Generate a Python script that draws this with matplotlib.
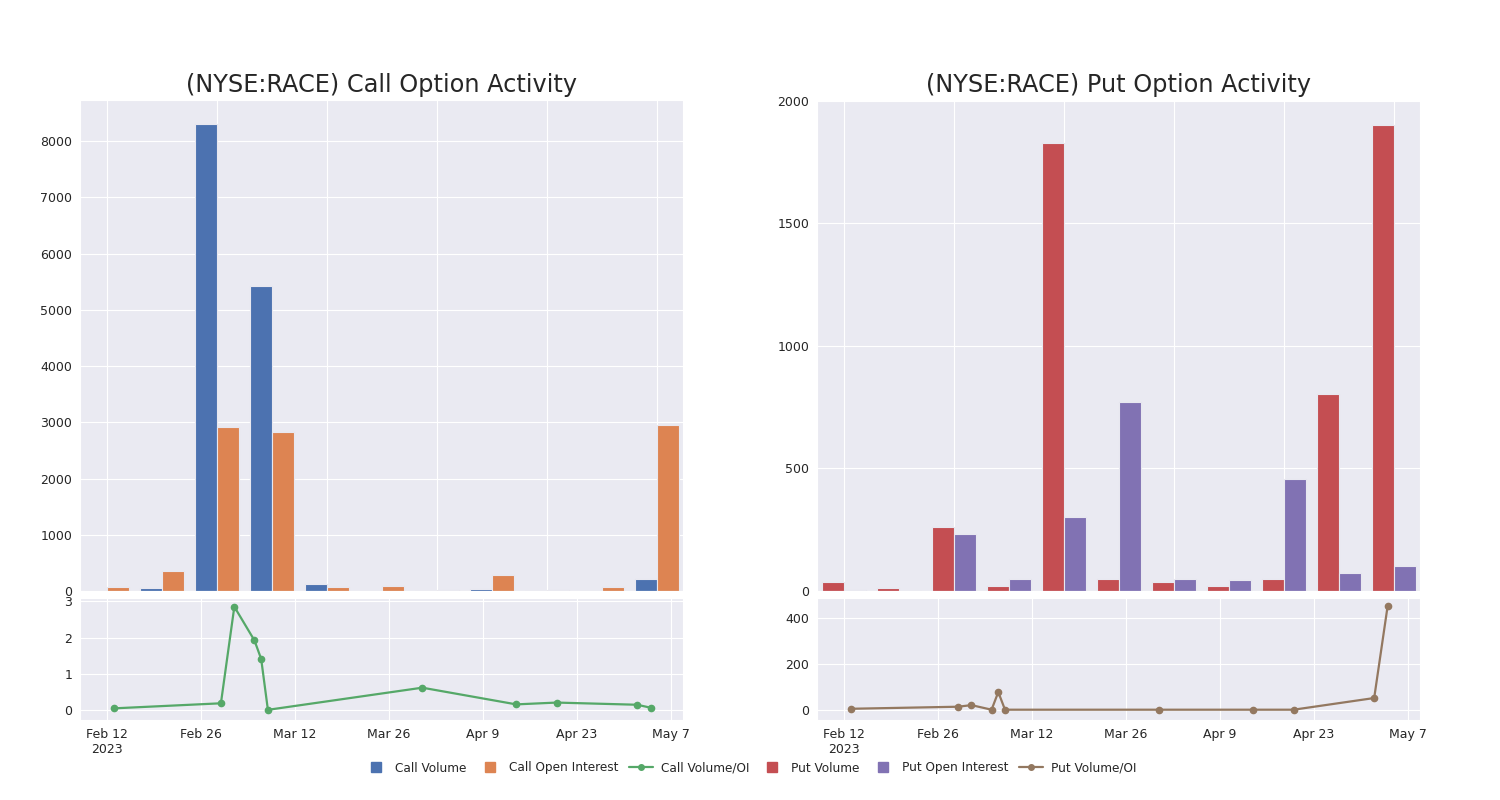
import numpy as np
import pandas as pd
import matplotlib
matplotlib.use('Agg')
import matplotlib.pyplot as plt
import matplotlib.dates as mdates
from matplotlib.lines import Line2D
import seaborn as sns

sns.set_style('darkgrid')
plt.rcParams['font.family'] = ['DejaVu Sans']

# даты торговых дней
dates = pd.to_datetime(['2023-02-13', '2023-03-01', '2023-03-03', '2023-03-06', '2023-03-07',
                        '2023-03-08', '2023-03-31', '2023-04-14', '2023-04-20', '2023-05-02',
                        '2023-05-04'])

# колл опционы
call_volume = [5, 60, 8300, 5430, 120, 0, 8, 40, 5, 8, 210]
call_oi = [65, 350, 2920, 2820, 80, 85, 10, 280, 25, 65, 2960]
call_ratio = [0.05, 0.19, 2.85, 1.92, 1.41, 0.01, 0.62, 0.16, 0.21, 0.15, 0.07]

# пут опционы
put_volume = [35, 12, 260, 19, 1828, 49, 35, 20, 48, 803, 1902]
put_oi = [5, 0, 231, 50, 302, 771, 50, 44, 456, 72, 102]
put_ratio = [4, 13, 20, 0, 77, 0, 0, 0, 0, 51, 452]

c_vol, c_oi, c_ratio = '#4C72B0', '#DD8452', '#55A868'
p_vol, p_oi, p_ratio = '#C44E52', '#8172B3', '#937860'

fig = plt.figure(figsize=(15, 8), dpi=100)


def date_fmt(x, pos):
    d = mdates.num2date(x)
    s = d.strftime('%b ') + str(d.day)
    if pos == 0:
        s += '\n2023'
    return s


def draw(x0, vol, oi, ratio, col_v, col_oi, col_r, title, ylim_top, ystep, ylim_bot, yticks_bot):
    ax = fig.add_axes([x0, 0.26125, 0.402, 0.61375])
    ax2 = fig.add_axes([x0, 0.1, 0.402, 0.1525])
    idx = np.arange(len(vol))
    ax.bar(idx - 0.2, vol, width=0.4, color=col_v, edgecolor='#e8e8f0', linewidth=0.8)
    ax.bar(idx + 0.2, oi, width=0.4, color=col_oi, edgecolor='#e8e8f0', linewidth=0.8)
    ax.set_xlim(-0.49, 10.47)
    ax.set_ylim(0, ylim_top)
    ax.yaxis.set_major_locator(plt.MultipleLocator(ystep))
    ax.set_xticks(idx[::2])
    ax.set_xticklabels([])
    ax.tick_params(axis='x', length=0)
    ax.tick_params(axis='y', labelsize=9, pad=2)
    ax.set_title(title, fontsize=17.3, color='#262626')

    # график отношения объема к открытому интересу
    ax2.plot(dates, ratio, color=col_r, marker='o', markersize=4.5, linewidth=1.6)
    ax2.set_xlim(pd.Timestamp('2023-02-08'), pd.Timestamp('2023-05-08 20:00'))
    ax2.set_ylim(*ylim_bot)
    ax2.set_yticks(yticks_bot)
    ax2.set_xticks(pd.date_range('2023-02-12', '2023-05-07', freq='14D'))
    ax2.xaxis.set_major_formatter(plt.FuncFormatter(date_fmt))
    ax2.tick_params(axis='both', labelsize=9, pad=2)
    return ax, ax2


draw(0.0533, call_volume, call_oi, call_ratio, c_vol, c_oi, c_ratio,
     '(NYSE:RACE) Call Option Activity', 8730, 1000, (-0.27, 3.09), [0, 1, 2, 3])
draw(0.5447, put_volume, put_oi, put_ratio, p_vol, p_oi, p_ratio,
     '(NYSE:RACE) Put Option Activity', 2004, 500, (-45, 488), [0, 200, 400])

handles = [
    Line2D([], [], marker='s', linestyle='none', color=c_vol, markersize=7),
    Line2D([], [], marker='s', linestyle='none', color=c_oi, markersize=7),
    Line2D([], [], marker='o', color=c_ratio, markersize=4, linewidth=1.6),
    Line2D([], [], marker='s', linestyle='none', color=p_vol, markersize=7),
    Line2D([], [], marker='s', linestyle='none', color=p_oi, markersize=7),
    Line2D([], [], marker='o', color=p_ratio, markersize=4, linewidth=1.6),
]
labels = ['Call Volume', 'Call Open Interest', 'Call Volume/OI',
          'Put Volume', 'Put Open Interest', 'Put Volume/OI']
fig.legend(handles, labels, loc='center', bbox_to_anchor=(0.5, 0.04), ncol=6,
           frameon=False, fontsize=8.7, handlelength=2.0, handletextpad=0.6,
           columnspacing=0.9)

fig.savefig('out.png', dpi=100)
